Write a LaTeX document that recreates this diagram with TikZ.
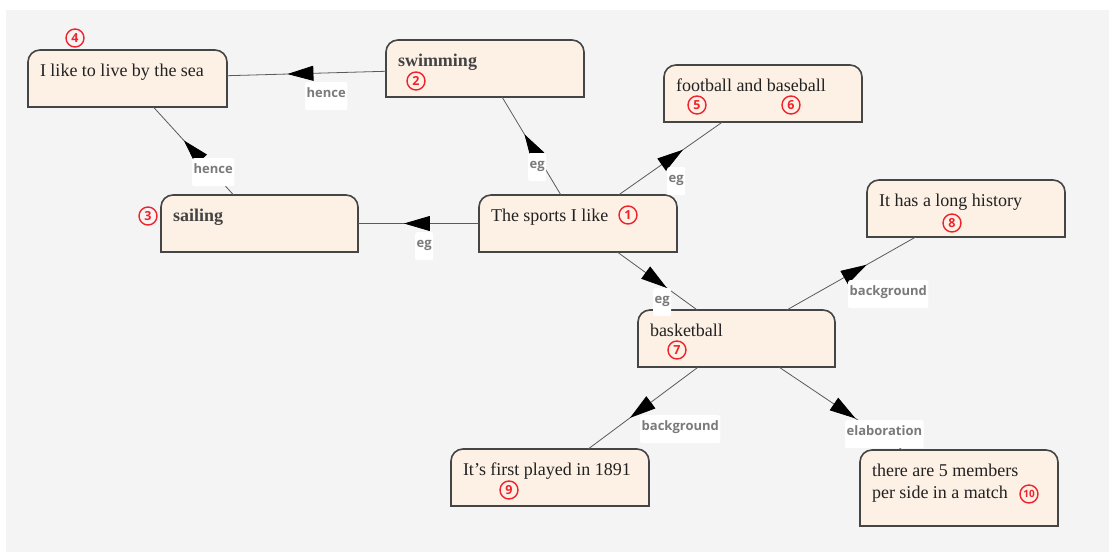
\documentclass[tikz,border=0pt]{standalone}
\usepackage{fontspec}
\setmainfont{Liberation Serif}
\newfontfamily\lblfont{Open Sans}
\usetikzlibrary{arrows.meta,decorations.markings,backgrounds}
\definecolor{bgray}{HTML}{F4F4F4}
\definecolor{boxfill}{HTML}{FDF0E4}
\definecolor{boxline}{HTML}{454545}
\definecolor{edgecol}{HTML}{5A5A5A}
\definecolor{lbltext}{HTML}{7A7A7A}
\definecolor{numred}{HTML}{F0222B}
\definecolor{boxtext}{HTML}{222222}
\newcommand{\boxtxt}[3]{\parbox[t][#1][t]{#2}{\rule{0pt}{26pt}#3}}
\newcommand{\frameit}[1]{\draw[frame] (#1.south west) -- ([yshift=-12pt]#1.north west) arc[start angle=180,end angle=90,radius=12pt] -- ([xshift=-12pt]#1.north east) arc[start angle=90,end angle=0,radius=12pt] -- (#1.south east) -- cycle;}
\tikzset{
  box/.style={rectangle, anchor=north west, inner xsep=12pt, inner ysep=0pt, outer sep=0pt,
    font=\fontsize{18}{22}\selectfont, text=boxtext, align=left},
  boldbox/.style={box, font=\bfseries\fontsize{18}{22}\selectfont, text=boxtext!85},
  frame/.style={fill=boxfill, draw=boxline, line width=1.6pt},
  edge/.style={draw=edgecol, line width=0.8pt, postaction={decorate},
    decoration={markings, mark=at position 0.62 with {\arrow{Triangle[length=26pt,width=15pt,color=black]}}}},
  lbl/.style={fill=white, anchor=north west, font=\lblfont\bfseries\fontsize{13}{14}\selectfont,
    text=lbltext, inner xsep=1.5pt, inner ysep=0pt, text height=15pt, text depth=13pt, rounded corners=2pt},
  num/.style={circle, draw=numred, line width=1.4pt, text=numred, font=\lblfont\bfseries\fontsize{12.5}{13}\selectfont,
    inner sep=0pt, minimum size=18pt}
}
\begin{document}
\begin{tikzpicture}[x=1pt,y=-1pt]
\useasboundingbox (0,0) rectangle (1109,552);
% boxes
\node[box] (sports) at (479,195) {\boxtxt{57pt}{174pt}{The sports I like}};
\node[boldbox] (swim) at (386,40) {\boxtxt{57pt}{174pt}{swimming}};
\node[boldbox] (sail) at (161,195) {\boxtxt{57pt}{173pt}{sailing}};
\node[box] (sea) at (28,50) {\boxtxt{57pt}{175pt}{I like to live by the sea}};
\node[box] (foot) at (664,65) {\boxtxt{57pt}{174pt}{football and baseball}};
\node[box] (hist) at (867,180) {\boxtxt{57pt}{174pt}{It has a long history}};
\node[box] (basket) at (638,310) {\boxtxt{57pt}{173pt}{basketball}};
\node[box] (first) at (451,449) {\boxtxt{57pt}{174pt}{It's first played in 1891}};
\node[box] (members) at (860,450) {\boxtxt{76pt}{174pt}{there are 5 members\\per side in a match}};
\begin{scope}[on background layer]
  \fill[white] (0,0) rectangle (1109,552);
  \fill[bgray] (6,10) rectangle (1109,552);
  \foreach \n in {sports,swim,sail,sea,foot,hist,basket,first,members} {\frameit{\n}}
\end{scope}
% edges
\draw[edge] (swim) -- (sea);
\draw[edge] (sail) -- (sea);
\draw[edge] (sports) -- (swim);
\draw[edge] (sports) -- (foot);
\draw[edge] (sports) -- (sail);
\draw[edge] (sports) -- (basket);
\draw[edge] (basket) -- (hist);
\draw[edge] (basket) -- (first);
\draw[edge] (basket) -- (members);
% labels
\node[lbl] (l1) at (305,82) {hence};
\node[lbl] (l2) at (192,158) {hence};
\node[lbl] (l3) at (528,153) {eg};
\node[lbl] (l4) at (667,167) {eg};
\node[lbl] (l5) at (415,232) {eg};
\node[lbl] (l6) at (653,288) {eg};
\node[lbl] (l7) at (848,280) {background};
\node[lbl] (l8) at (640,415) {background};
\node[lbl] (l9) at (845,420) {elaboration};
% numbers
\node[num] (n1) at (628,215) {1};
\node[num] (n2) at (416,81) {2};
\node[num] (n3) at (148,216) {3};
\node[num] (n4) at (75,38) {4};
\node[num] (n5) at (697,105) {5};
\node[num] (n6) at (791,105) {6};
\node[num] (n7) at (677,350) {7};
\node[num] (n8) at (952,223) {8};
\node[num] (n9) at (509,490) {9};
\node[num, font=\lblfont\bfseries\fontsize{10}{10}\selectfont] (n10) at (1029,494) {10};
\end{tikzpicture}
\end{document}
